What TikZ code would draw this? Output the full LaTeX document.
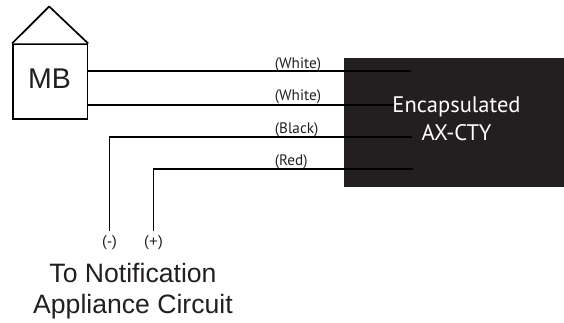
\documentclass[tikz,border=0pt]{standalone}
\usepackage{fontspec}
\setmainfont{Liberation Sans}
\newfontfamily\myr{PT Sans}
\definecolor{ink}{HTML}{231F20}
\tikzset{
  wire/.style={draw=black,line width=1.7pt},
  outl/.style={draw=black,line width=1.7pt,fill=white},
  wlabel/.style={font=\myr\fontsize{15.2}{17}\selectfont,text=ink,inner sep=0pt,anchor=base west},
  tlabel/.style={font=\fontsize{15}{17}\selectfont,text=ink,inner sep=0pt,anchor=base},
  big/.style={font=\fontsize{26.6}{30}\selectfont,text=ink,inner sep=0pt,anchor=base},
  enc/.style={inner sep=0pt,anchor=base,text=white,font=\myr\fontsize{22.5}{26}\selectfont},
}
\begin{document}
\begin{tikzpicture}[x=1pt,y=-1pt]
\useasboundingbox (0,0) rectangle (564,323);
% encapsulated block
\node[draw=ink,fill=ink,line width=1pt,minimum width=222pt,minimum height=127pt,inner sep=0pt,anchor=north west] (ax) at (344,58.5) {};
% MB box
\node[outl,minimum width=74.5pt,minimum height=75pt,inner sep=0pt,anchor=north west] (mb) at (12,43.5) {};
\coordinate (apex) at (49.2,6.5);
\draw[outl,line join=round] (mb.north west) -- (apex) -- (mb.north east);
\node[big,font=\fontsize{28.5}{30}\selectfont] (mbt) at (49.5,88.7) {MB};
% wire ends
\coordinate (w1a) at (mb.east |- 0,71);
\coordinate (w2a) at (mb.east |- 0,105);
\coordinate (w1b) at (411,71);
\coordinate (w2b) at (393.5,105);
\coordinate (w3b) at (412,137);
\coordinate (w4b) at (413,169);
\coordinate (w3a) at (109.5,231);
\coordinate (w4a) at (153.5,231);
\draw[wire] (w1a) -- (w1b);
\draw[wire] (w2a) -- (w2b);
\draw[wire,line join=miter] (w3a) |- (w3b);
\draw[wire,line join=miter] (w4a) |- (w4b);
% labels
\node[wlabel] (l1) at (274.7,68.3) {(White)};
\node[wlabel] (l2) at (274.7,101) {(White)};
\node[wlabel] (l3) at (274.7,133.3) {(Black)};
\node[wlabel] (l4) at (274.7,165.7) {(Red)};
\node[tlabel] (lm) at (109.5,246) {(-)};
\node[tlabel] (lp) at (153.5,246) {(+)};
\node[enc] (e1) at (456.5,112.7) {Encapsulated};
\node[enc] (e2) at (456.5,141) {AX-CTY};
\node[big] (t1) at (133,282) {To Notification};
\node[big] (t2) at (133,313.7) {Appliance Circuit};
\end{tikzpicture}
\end{document}
